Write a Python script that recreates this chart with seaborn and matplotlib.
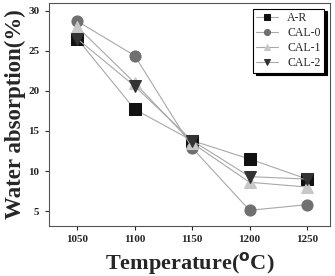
import numpy as np
import pandas as pd
import matplotlib
matplotlib.use("Agg")
import matplotlib.pyplot as plt
import seaborn as sns

sns.set_theme(style="ticks")
plt.rcParams["font.family"] = ["Liberation Serif", "DejaVu Serif"]

temps = [1050, 1100, 1150, 1200, 1250]
ar = [26.5, 17.7, 13.8, 11.5, 9.0]
cal0 = [28.7, 24.4, 12.9, 5.1, 5.8]
cal1 = [28.0, 21.0, 13.5, 8.6, 8.0]
cal2 = [26.5, 20.6, 13.8, 9.3, 9.0]

names = ["A-R", "CAL-0", "CAL-1", "CAL-2"]
series = [ar, cal0, cal1, cal2]
colors = ["#111111", "#707070", "#c8c8c8", "#333333"]
markers = ["s", "o", "^", "v"]

df = pd.DataFrame(
    {"temp": temps * 4,
     "wa": np.concatenate(series),
     "sample": np.repeat(names, len(temps))}
)

fig, ax = plt.subplots(figsize=(3.35, 2.76), dpi=100)
fig.subplots_adjust(left=0.145, right=0.985, bottom=0.18, top=0.99)

for name, c, m in zip(names, colors, markers):
    d = df[df["sample"] == name]
    sns.lineplot(data=d, x="temp", y="wa", ax=ax, color="#a8a8a8", lw=0.8,
                 marker=m, markersize=8, markerfacecolor=c,
                 markeredgecolor=c, label=name)

ax.set_xlim(1025, 1270)
ax.set_ylim(3.1, 31)
ax.set_xticks(temps)
ax.set_yticks([5, 10, 15, 20, 25, 30])
ax.tick_params(labelsize=8, length=3, width=0.8, direction="out")
for lab in ax.get_xticklabels() + ax.get_yticklabels():
    lab.set_fontweight("bold")
for s in ax.spines.values():
    s.set_color("#555555")
    s.set_linewidth(0.8)

ax.set_xlabel("Temperature($^{\\mathbf{o}}$C)", fontsize=16, fontweight="bold")
ax.set_ylabel("Water absorption(%)", fontsize=16.5, fontweight="bold", labelpad=2)

leg = ax.legend(loc="upper right", fontsize=8.5, frameon=True,
                shadow={"color": "black", "alpha": 1.0},
                fancybox=False, edgecolor="black", handlelength=1.8,
                markerscale=0.55, borderpad=0.3, labelspacing=0.25,
                borderaxespad=0.5)
leg.get_frame().set_linewidth(0.8)

fig.savefig("out.png", dpi=100)
